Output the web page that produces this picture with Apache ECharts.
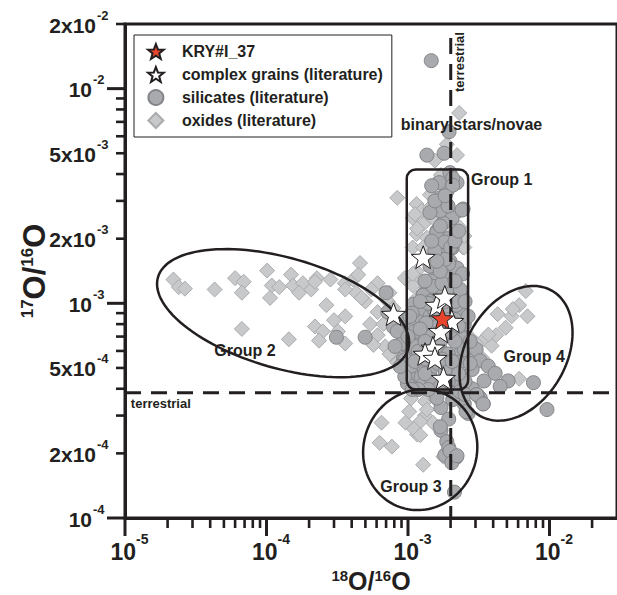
<!DOCTYPE html>
<html><head><meta charset="utf-8">
<script src="https://cdn.jsdelivr.net/npm/echarts@6/dist/echarts.min.js"></script>
<style>html,body{margin:0;padding:0;background:#fff}#c{width:617px;height:595px}</style>
</head><body><div id="c"></div>
<script>
// ---- data (18O/16O, 17O/16O) ----
const kryGrain = [[1.75e-3, 8.5e-4]];
const complexGrains = [[1.28e-3,1.64e-3],[7.9e-4,8.9e-4],[1.6e-3,9.8e-4],[1.82e-3,1.07e-3],[2.04e-3,8.25e-4],[1.69e-3,7.41e-4],[1.5e-3,6.2e-4],[1.32e-3,5.8e-4],[1.55e-3,5.55e-4],[1.78e-3,4.48e-4]];
const silicates = [
[1.46e-3,1.35e-2],[1.36e-3,4.9e-3],[1.80e-3,5.0e-3],[1.95e-3,6.3e-3],[1.98e-3,4.06e-3],[2.22e-3,3.65e-3],[1.89e-3,3.34e-3],[1.69e-3,3.1e-3],[2.45e-3,2.75e-3],[2.05e-3,2.5e-3],
[1.6e-3,2.17e-3],[1.89e-3,2.0e-3],[2.05e-3,1.81e-3],[1.74e-3,1.69e-3],[1.98e-3,1.57e-3],[1.77e-3,1.41e-3],[2.22e-3,1.46e-3],[1.55e-3,1.32e-3],[1.89e-3,1.27e-3],[2.05e-3,1.14e-3],
[1.28e-3,1.1e-3],[1.09e-3,9.9e-4],[1.28e-3,9.2e-4],[1.16e-3,8.25e-4],[2.33e-3,1.1e-3],[2.33e-3,9.5e-4],[2.45e-3,7.2e-4],[1.22e-3,6.65e-4],[1.03e-3,5.8e-4],[1.22e-3,5.2e-4],
[1.09e-3,4.45e-4],[1.43e-3,4.82e-4],[1.98e-3,4.97e-4],[2.33e-3,5.8e-4],[2.62e-3,6.15e-4],[1.66e-3,3.65e-3],[2.07e-3,3.82e-3],[2.07e-3,3.55e-3],[2.41e-3,2.72e-3],[1.6e-3,2.14e-3],
[1.82e-3,1.93e-3],[2.0e-3,1.82e-3],[1.71e-3,1.6e-3],[1.94e-3,1.53e-3],[1.5e-3,1.47e-3],[1.76e-3,1.37e-3],[1.28e-3,1.09e-3],[1.02e-3,8.0e-4],[1.12e-3,7.41e-4],[9.6e-4,5.55e-4],
[1.05e-3,5.1e-4],[1.24e-3,4.53e-4],[9.9e-4,4.23e-4],[1.28e-3,4.19e-4],[1.55e-3,4.0e-4],[2.0e-3,4.19e-4],[2.41e-3,4.6e-4],[2.28e-3,5.3e-4],[2.5e-3,6.1e-4],[2.34e-3,7.1e-4],
[2.5e-3,8.0e-4],[2.2e-3,9.8e-4],[2.34e-3,1.16e-3],[2.43e-3,1.37e-3],[3.12e-4,6.95e-4],[4.98e-4,6.95e-4],[7.2e-4,9.1e-4],[7.9e-4,7.75e-4],[9.0e-4,6.5e-4],[9.3e-4,5.55e-4],
[8.4e-4,7.41e-4],[9.6e-4,8.5e-4],[5.1e-3,4.35e-4],[7.7e-3,4.27e-4],[9.6e-3,3.2e-4],[3.03e-3,6.1e-4],[3.24e-3,5.4e-4],[3.69e-3,5.1e-4],[2.84e-3,4.92e-4],[3.45e-3,4.35e-4],
[2.84e-3,4.0e-4],[3.24e-3,3.62e-4],[2.5e-3,3.4e-4],[2.66e-3,3.07e-4],[3.08e-3,3.76e-4],[3.4e-3,3.4e-4],[4.13e-3,4.72e-4],[4.48e-3,4.1e-4],[1.71e-3,3.27e-4],[1.94e-3,2.89e-4],
[1.71e-3,2.56e-4],[1.88e-3,2.27e-4],[1.82e-3,1.96e-4],[2.2e-3,1.92e-4],[2.13e-3,1.32e-4],[1.6e-3,3.62e-4],[2.07e-3,3.56e-4],[2.57e-3,3.13e-4],[1.69e-3,2.66e-4],[1.94e-3,2.13e-4],
[1.98e-3,2.05e-4],[2.04e-3,1.81e-4],[1.43e-3,8.7e-4],[1.63e-3,7.82e-4],[1.83e-3,7.02e-4],[1.39e-3,7.41e-4],[1.47e-3,6.5e-4],[1.69e-3,6.1e-4],[1.92e-3,5.8e-4],[1.32e-3,5.5e-4],
[1.63e-3,5.25e-4],[1.83e-3,4.82e-4],[1.47e-3,4.42e-4],[2.15e-3,4.42e-4],[1.69e-3,4.1e-4],[1.39e-3,3.97e-4],[1.18e-3,3.97e-4],[2.33e-3,3.88e-4],[2.53e-3,4.33e-4],[2.75e-3,5.25e-4],
[2.15e-3,6.65e-4],[1.98e-3,7.41e-4],[1.34e-3,8.1e-4],[1.55e-3,9.2e-4],[1.83e-3,9.2e-4],[2.15e-3,8.4e-4],[1.22e-3,7.6e-4],[1.12e-3,6.3e-4],[1.0e-3,7.0e-4],[1.07e-3,9.0e-4],
[1.43e-3,1.02e-3],[1.63e-3,1.14e-3],[1.83e-3,1.02e-3],[2.15e-3,1.02e-3],[1.5e-3,1.2e-3],[1.74e-3,1.24e-3],[1.43e-3,1.49e-3],[1.83e-3,1.6e-3],[1.55e-3,1.75e-3],[1.47e-3,1.95e-3],
[1.77e-3,2.37e-3],[1.69e-3,2.7e-3],[1.92e-3,2.84e-3],[1.43e-3,2.65e-3],[1.55e-3,3.0e-3],[1.83e-3,3.17e-3],[2.22e-3,1.95e-4],[2.53e-3,3.76e-4],[3.05e-3,3.76e-4],[3.4e-3,3.4e-4],
[7.0e-4,1.12e-3],[9.5e-4,5.45e-4],
[1.03e-3,8.7e-4],[1.18e-3,5.97e-4],[1.32e-3,6.65e-4],[1.5e-3,5.66e-4],[1.74e-3,5.5e-4],[2.05e-3,5.36e-4],[2.28e-3,4.7e-4],[1.92e-3,4.33e-4],[1.32e-3,4.7e-4],[1.07e-3,3.97e-4],
[1.12e-3,5.36e-4],[2.28e-3,7.82e-4],[1.94e-3,8.4e-4],[1.69e-3,6.65e-4],[1.39e-3,1.0e-3],[1.22e-3,1.02e-3],[1.69e-3,1.41e-3],[2.15e-3,1.27e-3],[1.32e-3,1.27e-3],[1.6e-3,1.57e-3],
[2.15e-3,1.95e-3],[1.69e-3,2.29e-3],[1.47e-3,3.53e-3],[2.28e-3,2.17e-3],[2.53e-3,1.02e-3],[2.66e-3,8.7e-4],[2.75e-3,6.65e-4],[9.5e-4,4.56e-4],[8.8e-4,5.08e-4],[8.1e-4,6.3e-4]
];
const oxides = [
[2.2e-5,1.29e-3],[2.4e-5,1.19e-3],[2.65e-5,1.17e-3],[4.3e-5,1.16e-3],[6.0e-5,1.31e-3],[6.9e-5,1.26e-3],[6.7e-5,1.12e-3],[1.01e-4,1.42e-3],[1.09e-4,1.21e-3],[1.06e-4,1.06e-3],
[1.49e-4,1.36e-3],[1.54e-4,1.21e-3],[1.81e-4,1.24e-3],[2.27e-4,1.31e-3],[2.07e-4,1.16e-3],[2.83e-4,1.29e-3],[3.58e-4,1.24e-3],[4.58e-4,1.54e-3],[4.3e-4,1.12e-3],[5.0e-4,1.02e-3],
[6.1e-4,1.24e-3],[7.4e-4,1.12e-3],[6.7e-5,7.6e-4],[1.44e-4,6.8e-4],[2.2e-4,7.8e-4],[2.5e-4,7.4e-4],[2.35e-4,6.7e-4],[3.0e-4,8.35e-4],[3.2e-4,7.4e-4],[3.6e-4,6.5e-4],
[5.4e-4,8.0e-4],[6.1e-4,7.1e-4],[6.9e-4,6.3e-4],[7.9e-4,5.6e-4],[8.4e-4,3.1e-3],[9.5e-4,1.31e-3],[2.2e-4,1.26e-3],[3.6e-4,1.16e-3],[4.1e-4,1.29e-3],[5.5e-4,1.16e-3],
[4.7e-4,1.06e-3],[7.2e-4,1.02e-3],[7.9e-4,9.5e-4],[6.1e-4,9.1e-4],[6.7e-4,8.0e-4],[5.7e-4,6.4e-4],[7.4e-4,5.8e-4],[8.4e-4,5.3e-4],[3.6e-4,8.7e-4],[2.65e-4,9.8e-4],
[1.23e-4,1.19e-3],[1.7e-4,1.12e-3],[4.45e-4,1.36e-3],
[1.15e-3,2.9e-3],[1.25e-3,2.7e-3],[1.43e-3,2.79e-3],[1.08e-3,2.5e-3],[1.28e-3,2.34e-3],[1.5e-3,2.5e-3],[1.77e-3,2.6e-3],[2.33e-3,2.7e-3],[1.98e-3,2.25e-3],[2.33e-3,2.25e-3],
[1.15e-3,2.1e-3],[1.36e-3,2.02e-3],[1.63e-3,2.1e-3],[2.45e-3,1.82e-3],[1.08e-3,1.82e-3],[1.28e-3,1.82e-3],[1.5e-3,1.75e-3],[1.88e-3,1.95e-3],[1.15e-3,1.41e-3],[1.22e-3,1.27e-3],
[2.22e-3,4.9e-3],[2.3e-3,7.7e-3],[1.88e-3,5.5e-3],[1.55e-3,4.62e-3],[1.63e-3,3.72e-3],[1.98e-3,3.6e-3],[1.43e-3,3.2e-3],[1.71e-3,3.96e-3],[2.5e-3,1.82e-3],
[1.08e-3,1.21e-3],[1.16e-3,1.06e-3],[1.08e-3,1.37e-3],[2.5e-3,2.06e-3],[1.12e-3,2.6e-3],[1.16e-3,2.23e-3],
[2.5e-3,7.1e-4],[2.84e-3,6.8e-4],[1.05e-3,3.6e-4],[9.8e-4,4.6e-4],[1.2e-3,4.9e-4],[2.6e-3,5.6e-4],
[6.8e-3,1.14e-3],[6.1e-3,9.8e-4],[6.99e-3,8.7e-4],[5.4e-3,8.7e-4],[4.3e-3,8.9e-4],[4.9e-3,7.7e-4],[4.2e-3,7.1e-4],[3.45e-3,6.8e-4],[3.9e-3,6.35e-4],[3.03e-3,6.5e-4],
[6.1e-3,4.45e-4],[3.35e-3,5.55e-4],[5.5e-3,9.4e-4],[3.7e-3,7.15e-4],
[6.5e-4,2.78e-4],[6.3e-4,2.24e-4],[7.7e-4,2.15e-4],[1.28e-3,1.77e-4],[9.6e-4,2.78e-4],[1.16e-3,2.45e-4],[1.32e-3,3.0e-4],[1.02e-3,3.13e-4],[1.5e-3,2.78e-4],
[1.22e-3,2.81e-4],[1.1e-3,2.6e-4],[1.22e-3,2.43e-4],[1.32e-3,3.49e-4],[1.55e-3,3.6e-4],[1.78e-3,1.93e-4],[1.36e-3,3.2e-4]
];
// terrestrial reference ratios
const terrestrial18 = 2.005e-3;
const terrestrial17 = 3.829e-4;
// ---- axes / ticks ----
const xRange = [1e-5, 3e-2];
const yRange = [1e-4, 2e-2];
const xMajorTicks = [1e-5, 1e-4, 1e-3, 1e-2];
const xMinorTicks = [2e-5,3e-5,4e-5,5e-5,6e-5,7e-5,8e-5,9e-5,2e-4,3e-4,4e-4,5e-4,6e-4,7e-4,8e-4,9e-4,2e-3,3e-3,4e-3,5e-3,6e-3,7e-3,8e-3,9e-3,2e-2];
const xTickBase = ['10','10','10','10'];
const xTickExp = ['-5','-4','-3','-2'];
const yMajorTicks = [1e-4, 1e-3, 1e-2];
const yMinorTicks = [2e-4,3e-4,4e-4,5e-4,6e-4,7e-4,8e-4,9e-4,2e-3,3e-3,4e-3,5e-3,6e-3,7e-3,8e-3,9e-3,2e-2];
const yLabelValues = [2e-2, 1e-2, 5e-3, 2e-3, 1e-3, 5e-4, 2e-4, 1e-4];
const yLabelBase = ['2x10','10','5x10','2x10','10','5x10','2x10','10'];
const yLabelExp = ['-2','-2','-3','-3','-3','-4','-4','-4'];

const INK = '#231f20';
const FONT = '"Liberation Sans", Arial, sans-serif';
const STAR = 'path://M0,-10 L2.469,-3.398 L9.511,-3.09 L3.994,1.298 L5.878,8.09 L0,4.2 L-5.878,8.09 L-3.994,1.298 L-9.511,-3.09 L-2.469,-3.398 Z';
const DIAMOND = 'path://M0,-10 L10,0 L0,10 L-10,0 Z';

function txt(text, x, y, size, align, vAlign, extra) {
  return Object.assign({type: 'text', style: {text: text, x: x, y: y, fill: INK,
    font: 'bold ' + size + 'px ' + FONT, align: align, verticalAlign: vAlign}}, extra || {});
}

function renderDecor(params, api) {
  const c = (x, y) => api.coord([x, y]);
  const bl = c(xRange[0], yRange[0]);
  const tr = c(xRange[1], yRange[1]);
  const left = bl[0], bottom = bl[1], top = tr[1], right = tr[0];
  const dec = c(1e-3, yRange[0])[0] - c(1e-4, yRange[0])[0];
  const kids = [];
  const line = (x1, y1, x2, y2, w, dash) => kids.push({type: 'line',
    shape: {x1: x1, y1: y1, x2: x2, y2: y2},
    style: {stroke: INK, lineWidth: w, lineDash: dash || null, fill: null}});
  // ticks
  xMajorTicks.forEach(v => { const p = c(v, yRange[0]); line(p[0], bottom, p[0], bottom + 18, 3); });
  xMinorTicks.forEach(v => { const p = c(v, yRange[0]); line(p[0], bottom, p[0], bottom + 10, 2.6); });
  yMajorTicks.forEach(v => { const p = c(xRange[0], v); line(left - 18, p[1], left, p[1], 3); });
  yMinorTicks.forEach(v => { const p = c(xRange[0], v); line(left - 9, p[1], left, p[1], 2.6); });
  // tick labels
  xMajorTicks.forEach((v, i) => {
    const p = c(v, yRange[0]);
    kids.push(txt(xTickBase[i], p[0] + 11, bottom + 34, 23, 'right', 'middle'));
    kids.push(txt(xTickExp[i], p[0] + 11, bottom + 21, 14, 'left', 'middle'));
  });
  yLabelValues.forEach((v, i) => {
    const p = c(xRange[0], v);
    const major = yLabelBase[i] === '10';
    const j = major ? left - 33 : left - 29;
    kids.push(txt(yLabelBase[i], j, p[1] + 1, 21, 'right', 'middle'));
    kids.push(txt(yLabelExp[i], j + 1, p[1] - 9, 13, 'left', 'middle'));
  });
  // terrestrial dashed lines
  const tx = c(terrestrial18, yRange[0])[0];
  const ty = c(xRange[0], terrestrial17)[1];
  const tTop = c(terrestrial18, 1.72e-2)[1];
  line(tx, tTop, tx, bottom, 3, [16, 10]);
  line(left, ty, right, ty, 3, [16, 10]);
  // group 1 rounded box
  const g1a = c(9.8e-4, 4.2e-3), g1b = c(2.66e-3, 3.97e-4);
  kids.push({type: 'rect', shape: {x: g1a[0], y: g1a[1], width: g1b[0] - g1a[0], height: g1b[1] - g1a[1], r: 9},
    style: {stroke: INK, lineWidth: 2.5, fill: null}});
  // ellipses (center in data, radii in decades of x)
  const ell = (cx, cy, a, b, rotDeg) => {
    const ctr = c(cx, cy), A = a * dec, B = b * dec, t = rotDeg * Math.PI / 180;
    const pts = [];
    for (let k = 0; k < 120; k++) {
      const s = k / 120 * Math.PI * 2;
      const ex = A * Math.cos(s), ey = B * Math.sin(s);
      pts.push([ctr[0] + ex * Math.cos(t) - ey * Math.sin(t), ctr[1] + ex * Math.sin(t) + ey * Math.cos(t)]);
    }
    kids.push({type: 'polygon', shape: {points: pts}, style: {stroke: INK, lineWidth: 2.5, fill: null}});
  };
  ell(1.31e-4, 9.0e-4, 0.92, 0.39, 16);
  ell(1.22e-3, 2.08e-4, 0.43, 0.40, -70);
  ell(5.8e-3, 5.85e-4, 0.51, 0.355, -60);
  // annotations
  let p;
  p = c(8.9e-4, 6.78e-3); kids.push(txt('binary stars/novae', p[0], p[1], 16, 'left', 'middle'));
  p = c(2.79e-3, 3.77e-3); kids.push(txt('Group 1', p[0], p[1], 16, 'left', 'middle'));
  p = c(7.05e-5, 6.0e-4); kids.push(txt('Group 2', p[0], p[1], 16, 'center', 'middle'));
  p = c(1.05e-3, 1.4e-4); kids.push(txt('Group 3', p[0], p[1], 16, 'center', 'middle'));
  p = c(7.8e-3, 5.66e-4); kids.push(txt('Group 4', p[0], p[1], 16, 'center', 'middle'));
  p = c(1.1e-5, 3.43e-4); kids.push(txt('terrestrial', p[0], p[1], 13, 'left', 'middle'));
  p = c(2.33e-3, 1.33e-2); kids.push(txt('terrestrial', 0, 0, 13, 'center', 'middle', {x: p[0], y: p[1], rotation: Math.PI / 2}));
  // axis titles
  const richX = {m: {font: 'bold 25px ' + FONT, fill: INK, lineHeight: 25},
                 s: {font: 'bold 15px ' + FONT, fill: INK, lineHeight: 12, verticalAlign: 'top'}};
  const richY = {m: {font: 'bold 31px ' + FONT, fill: INK, lineHeight: 31},
                 s: {font: 'bold 17px ' + FONT, fill: INK, lineHeight: 14, verticalAlign: 'top'}};
  kids.push({type: 'text', x: (left + right) / 2, y: bottom + 62.5,
    style: {text: '{s|18}{m|O/}{s|16}{m|O}', rich: richX, align: 'center', verticalAlign: 'middle'}});
  kids.push({type: 'text', x: left - 91, y: (top + bottom) / 2, rotation: Math.PI / 2,
    style: {text: '{s|17}{m|O/}{s|16}{m|O}', rich: richY, align: 'center', verticalAlign: 'middle'}});
  return {type: 'group', children: kids};
}

const chart = echarts.init(document.getElementById('c'), null, {renderer: 'svg'});
chart.setOption({
  animation: false,
  backgroundColor: '#fff',
  grid: {left: 125, right: 0, top: 24, bottom: 77, show: true, borderColor: INK, borderWidth: 3, backgroundColor: 'transparent'},
  xAxis: {type: 'log', logBase: 10, min: xRange[0], max: xRange[1],
    axisLine: {onZero: false, lineStyle: {color: INK, width: 3}}, axisTick: {show: false},
    axisLabel: {show: false}, splitLine: {show: false}},
  yAxis: {type: 'log', logBase: 10, min: yRange[0], max: yRange[1],
    axisLine: {onZero: false, lineStyle: {color: INK, width: 3}}, axisTick: {show: false},
    axisLabel: {show: false}, splitLine: {show: false}},
  legend: {left: 134, top: 35, orient: 'vertical', selectedMode: false,
    itemWidth: 42, itemHeight: 15, itemGap: 6, padding: [8, 9, 8, 13],
    borderColor: INK, borderWidth: 1, backgroundColor: '#fff', symbolKeepAspect: true,
    textStyle: {fontSize: 16, fontWeight: 'bold', color: INK, fontFamily: FONT, lineHeight: 16},
    data: [{name: 'KRY#I_37', icon: STAR}, {name: 'complex grains (literature)', icon: STAR},
           {name: 'silicates (literature)', icon: 'circle'}, {name: 'oxides (literature)', icon: DIAMOND}]},
  series: [
    {name: 'oxides (literature)', type: 'scatter', data: oxides, symbol: DIAMOND, symbolKeepAspect: true, symbolSize: 15, z: 2,
      itemStyle: {color: '#c8c9ca', borderColor: '#a9abad', borderWidth: 1, opacity: 1}},
    {name: 'silicates (literature)', type: 'scatter', data: silicates, symbol: 'circle', symbolSize: 14, z: 3,
      itemStyle: {color: '#a8aaad', borderColor: '#838588', borderWidth: 1, opacity: 1}},
    {name: 'decor', type: 'custom', data: [[1e-3, 1e-3]], renderItem: renderDecor, clip: false, silent: true, z: 4},
    {name: 'complex grains (literature)', type: 'scatter', data: complexGrains, symbol: STAR, symbolKeepAspect: true, symbolSize: 24, z: 5,
      itemStyle: {color: '#ffffff', borderColor: INK, borderWidth: 1, opacity: 1}},
    {name: 'KRY#I_37', type: 'scatter', data: kryGrain, symbol: STAR, symbolKeepAspect: true, symbolSize: 22, z: 6,
      itemStyle: {color: '#e8452c', borderColor: INK, borderWidth: 1, opacity: 1}}
  ]
});
</script></body></html>
